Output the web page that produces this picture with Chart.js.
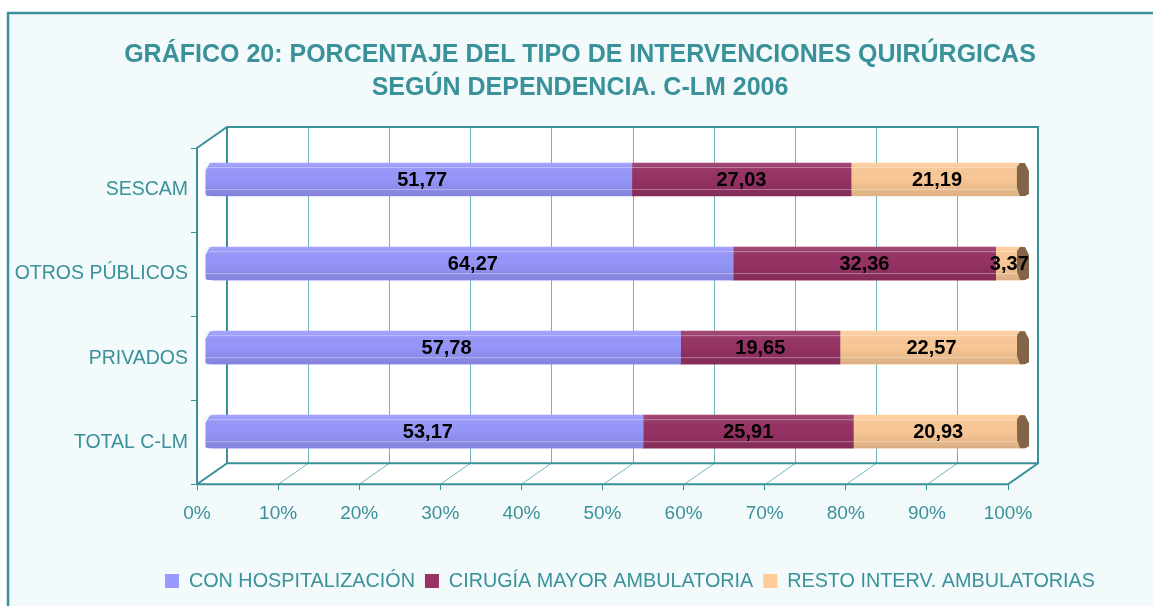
<!DOCTYPE html>
<html>
<head>
<meta charset="utf-8">
<script src="https://cdn.jsdelivr.net/npm/chart.js@4.4.0/dist/chart.umd.min.js"></script>
<style>
  body { margin: 0; background: #ffffff; }
  #wrap { width: 1153px; height: 606px; position: relative; }
</style>
</head>
<body>
<div id="wrap"><canvas id="chart" width="1153" height="606"></canvas></div>
<script>
// Chart data
const categories = ['SESCAM', 'OTROS PÚBLICOS', 'PRIVADOS', 'TOTAL C-LM'];
const conHospitalizacion = [51.77, 64.27, 57.78, 53.17];
const cirugiaMayorAmb = [27.03, 32.36, 19.65, 25.91];
const restoIntervAmb = [21.19, 3.37, 22.57, 20.93];
const seriesNames = ['CON HOSPITALIZACIÓN', 'CIRUGÍA MAYOR AMBULATORIA', 'RESTO INTERV. AMBULATORIAS'];
const xTicks = [0, 10, 20, 30, 40, 50, 60, 70, 80, 90, 100];

const teal = '#3a9199';
const gridTeal = '#72b6bb';
const font = '"Liberation Sans", Arial, sans-serif';
// 3D depth of the plot box
const depthX = 30, depthY = -21;

// panel, 3D walls, recentred title/legend
const frame3d = {
    id: 'frame3d',
    afterLayout(chart) {
        chart.titleBlock.left = 0;
        chart.titleBlock.right = 1160;
        chart.legend.left = 110;
        chart.legend.right = 1150;
    },
    beforeDraw(chart) {
        const ctx = chart.ctx;
        ctx.save();
        ctx.fillStyle = '#ffffff';
        ctx.fillRect(0, 0, chart.width, chart.height);
        ctx.fillStyle = '#f2fafb';
        ctx.fillRect(7, 12, chart.width, chart.height);
        ctx.strokeStyle = teal;
        ctx.lineWidth = 2.5;
        ctx.strokeRect(8, 13, chart.width + 10, chart.height + 10);
        ctx.restore();
    },
    beforeDatasetsDraw(chart) {
        const ctx = chart.ctx;
        const a = chart.chartArea;
        const xs = chart.scales.x;
        const L = a.left, R = a.right, T = a.top, B = a.bottom;
        ctx.save();
        // white walls and floor
        ctx.fillStyle = '#ffffff';
        ctx.beginPath();
        ctx.moveTo(L, T);
        ctx.lineTo(L + depthX, T + depthY);
        ctx.lineTo(R + depthX, T + depthY);
        ctx.lineTo(R + depthX, B + depthY);
        ctx.lineTo(R, B);
        ctx.lineTo(L, B);
        ctx.closePath();
        ctx.fill();
        // grid on back wall and floor
        ctx.strokeStyle = gridTeal;
        ctx.lineWidth = 1;
        ctx.beginPath();
        xTicks.forEach(v => {
            const x = Math.round(xs.getPixelForValue(v)) + 0.5;
            ctx.moveTo(x + depthX, T + depthY);
            ctx.lineTo(x + depthX, B + depthY);
            ctx.moveTo(x, B);
            ctx.lineTo(x + depthX, B + depthY);
        });
        ctx.stroke();
        // box edges
        ctx.strokeStyle = teal;
        ctx.lineWidth = 2;
        ctx.beginPath();
        ctx.moveTo(L, B);
        ctx.lineTo(L, T);
        ctx.lineTo(L + depthX, T + depthY);
        ctx.lineTo(R + depthX, T + depthY);
        ctx.lineTo(R + depthX, B + depthY);
        ctx.lineTo(R, B);
        ctx.lineTo(L, B);
        ctx.moveTo(L + depthX, T + depthY);
        ctx.lineTo(L + depthX, B + depthY);
        ctx.lineTo(R + depthX, B + depthY);
        ctx.moveTo(L, B);
        ctx.lineTo(L + depthX, B + depthY);
        ctx.stroke();
        // bars sit half way into the box
        ctx.translate(depthX / 2, depthY / 2);
    },
    afterDatasetsDraw(chart) {
        const ctx = chart.ctx;
        const last = chart.data.datasets.length - 1;
        chart.data.datasets.forEach((ds, di) => {
            const meta = chart.getDatasetMeta(di);
            meta.data.forEach((bar, i) => {
                const left = Math.min(bar.x, bar.base);
                const right = Math.max(bar.x, bar.base);
                const top = bar.y - bar.height / 2;
                const h = bar.height;
                if (di === 0) {
                    // bevelled start of the bar
                    ctx.fillStyle = '#9999ff';
                    ctx.beginPath();
                    ctx.moveTo(left + 1, top);
                    ctx.lineTo(left - 3, top);
                    ctx.lineTo(left - 7, top + 8);
                    ctx.lineTo(left - 7, top + h - 2);
                    ctx.lineTo(left - 5, top + h);
                    ctx.lineTo(left + 1, top + h);
                    ctx.closePath();
                    ctx.fill();
                }
                const x0 = di === 0 ? left - 7 : left;
                const g = ctx.createLinearGradient(0, top, 0, top + h);
                g.addColorStop(0, 'rgba(255,255,255,0.12)');
                g.addColorStop(0.45, 'rgba(0,0,0,0.02)');
                g.addColorStop(1, 'rgba(0,0,0,0.14)');
                ctx.fillStyle = g;
                ctx.fillRect(x0, top, right - x0, h);
                if (di === 0) {
                    ctx.fillStyle = '#f2fafb';
                    ctx.beginPath();
                    ctx.moveTo(left - 8, top - 0.5);
                    ctx.lineTo(left - 2.5, top - 0.5);
                    ctx.lineTo(left - 8, top + 8.5);
                    ctx.closePath();
                    ctx.fill();
                }
                ctx.strokeStyle = 'rgba(255,255,255,0.35)';
                ctx.lineWidth = 1;
                ctx.beginPath();
                ctx.moveTo(x0 + (di === 0 ? 3 : 0), top + 4.5);
                ctx.lineTo(right, top + 4.5);
                ctx.moveTo(x0, top + h - 6.5);
                ctx.lineTo(right, top + h - 6.5);
                ctx.stroke();
                if (di === last) {
                    ctx.fillStyle = '#826548';
                    ctx.beginPath();
                    ctx.moveTo(right - 3, top);
                    ctx.lineTo(right + 2, top);
                    ctx.lineTo(right + 6, top + 8);
                    ctx.lineTo(right + 6, top + h - 2);
                    ctx.lineTo(right + 2, top + h);
                    ctx.lineTo(right - 3, top + h);
                    ctx.lineTo(right - 6, top + h - 8);
                    ctx.lineTo(right - 6, top + 4);
                    ctx.closePath();
                    ctx.fill();
                }
                const v = ds.data[i];
                ctx.fillStyle = '#000000';
                ctx.font = 'bold 20px ' + font;
                ctx.textAlign = 'center';
                ctx.textBaseline = 'middle';
                ctx.fillText(v.toFixed(2).replace('.', ','), (left + right) / 2, bar.y + 1);
            });
        });
        ctx.restore();
    }
};

const ctx = document.getElementById('chart').getContext('2d');
new Chart(ctx, {
    type: 'bar',
    data: {
        labels: categories,
        datasets: [
            { label: seriesNames[0], data: conHospitalizacion, backgroundColor: '#9999ff' },
            { label: seriesNames[1], data: cirugiaMayorAmb, backgroundColor: '#993366' },
            { label: seriesNames[2], data: restoIntervAmb, backgroundColor: '#ffcc99' }
        ]
    },
    options: {
        indexAxis: 'y',
        responsive: false,
        animation: false,
        layout: { padding: { left: 10, right: 145, top: 0, bottom: 5 } },
        datasets: { bar: { barThickness: 33, borderWidth: 0, clip: false } },
        scales: {
            x: {
                stacked: true,
                min: 0,
                max: 100,
                afterBuildTicks(scale) { scale.ticks = xTicks.map(v => ({ value: v })); },
                afterFit(scale) { scale.height = 77; },
                grid: { drawOnChartArea: false, drawTicks: true, tickLength: 6, tickColor: teal },
                border: { color: teal, width: 2 },
                ticks: {
                    color: teal,
                    font: { family: font, size: 19 },
                    padding: 12,
                    callback: v => v + '%'
                }
            },
            y: {
                stacked: true,
                afterFit(scale) { scale.width = 187; },
                grid: { drawOnChartArea: false, drawTicks: true, tickLength: 6, tickColor: teal },
                border: { color: teal, width: 2 },
                ticks: {
                    color: teal,
                    font: { family: font, size: 19.5 },
                    padding: 3
                }
            }
        },
        plugins: {
            title: {
                display: true,
                text: ['GRÁFICO 20: PORCENTAJE DEL TIPO DE INTERVENCIONES QUIRÚRGICAS', 'SEGÚN DEPENDENCIA. C-LM 2006'],
                color: teal,
                font: { family: font, size: 25, weight: 'bold', lineHeight: 1.32 },
                padding: { top: 39, bottom: 43 }
            },
            legend: {
                position: 'bottom',
                labels: {
                    color: teal,
                    font: { family: font, size: 19.8 },
                    boxWidth: 14,
                    boxHeight: 14,
                    padding: 10
                }
            },
            tooltip: { enabled: false }
        }
    },
    plugins: [frame3d]
});
</script>
</body>
</html>
